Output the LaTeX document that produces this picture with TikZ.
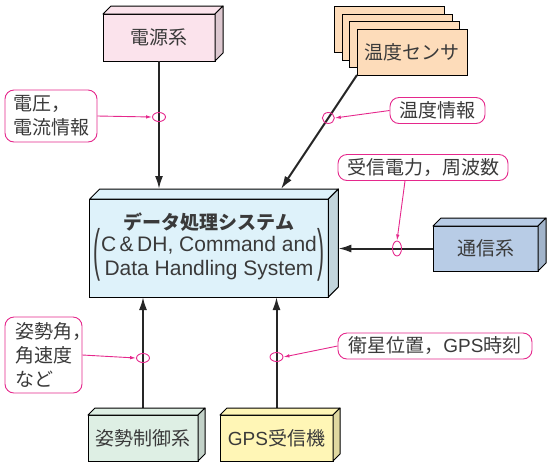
\documentclass[tikz,border=0pt]{standalone}
\usepackage{fontspec}
\setmainfont{Noto Sans CJK JP}
\newfontfamily\latinfont{Liberation Sans}
\usepackage{xcolor}
\usepackage{graphicx}
\usepackage{tikz}
\usetikzlibrary{shapes.geometric,arrows.meta,positioning,calc}

\definecolor{inkgray}{HTML}{3A3A3A}
\definecolor{tagpink}{HTML}{E5288C}
\definecolor{pinkbox}{HTML}{FBE3EC}
\definecolor{peachbox}{HTML}{FDDCBA}
\definecolor{cyanbox}{HTML}{DEF2FA}
\definecolor{bluebox}{HTML}{B8CCE6}
\definecolor{mintbox}{HTML}{DEEFE4}
\definecolor{yellowbox}{HTML}{FFF6B6}

% top and right faces of a box node
\newcommand\slabfaces[3]{%
  \filldraw[fill=#3, draw=black, line width=1pt, line join=round]
    (#1.north west) -- ++(#2pt,#2pt) -- ([shift={(#2pt,#2pt)}]#1.north east) -- (#1.north east) -- cycle;
  \filldraw[fill=#3!88!black, draw=black, line width=1pt, line join=round]
    (#1.north east) -- ++(#2pt,#2pt) -- ([shift={(#2pt,#2pt)}]#1.south east) -- (#1.south east) -- cycle;
}
% tall bracket over two lines
\newcommand\tallparen[1]{\smash{\raisebox{-18pt}{\scalebox{1}[2.7]{#1}}}}

\begin{document}
\begin{tikzpicture}[
    x=1pt, y=-1pt,
    font=\fontsize{19}{24}\selectfont,
    slab/.style={rectangle, draw=black, line width=1pt, outer sep=0pt, text=inkgray, align=center},
    tag/.style={rectangle, draw=tagpink, line width=0.9pt, fill=white, rounded corners=9pt, text=inkgray, inner sep=3pt},
    flow/.style={-{Latex[length=13pt,width=8pt]}, line width=2pt, draw=black!85},
    lead/.style={-{Latex[length=6pt,width=3.5pt]}, line width=0.9pt, draw=tagpink},
    loopmark/.style={ellipse, draw=tagpink, line width=0.9pt, inner sep=0pt, minimum width=13pt, minimum height=9pt}
]
    \useasboundingbox (0,0) rectangle (548,467);

    % subsystems
    \node [slab, fill=pinkbox, minimum width=112pt, minimum height=47pt] (pwr) at (159,37.5) {電源系};
    \foreach \i in {3,2,1}
        \node [slab, fill=peachbox, minimum width=110pt, minimum height=46pt] (temp\i) at ($(412,52)-(7.5*\i,7.5*\i)$) {};
    \node [slab, fill=peachbox, minimum width=110pt, minimum height=46pt] (temp) at (412,52) {温度センサ};
    \node [slab, fill=cyanbox, minimum width=238pt, minimum height=98pt] (cdh) at (209,248)
        {\textbf{データ処理システム}\\[2pt]{\latinfont\fontsize{21}{24}\selectfont
         \begin{tabular}{@{}l@{\hspace{1pt}}c@{\hspace{1pt}}r@{}}
         \tallparen{(} & C\,\&\,DH, Command and & \tallparen{)}\\
                       & Data Handling System  &
         \end{tabular}}};
    \node [slab, fill=bluebox, minimum width=105pt, minimum height=45pt] (com) at (485.5,248.5) {通信系};
    \node [slab, fill=mintbox, minimum width=110pt, minimum height=46pt] (att) at (143,438) {姿勢制御系};
    \node [slab, fill=yellowbox, minimum width=113pt, minimum height=46pt] (gps) at (276.5,438) {{\latinfont GPS}受信機};

    % data flow
    \coordinate (tempin) at ($(cdh.north)+(72,-10)$);
    \draw [flow] (pwr.south) -- ($(pwr.south |- cdh.north)+(0,-10)$);
    \draw [flow] (temp.south west) -- (tempin);
    \draw [flow] (com.west) -- ($(com.west -| cdh.east)+(10,0)$);
    \draw [flow] (att.north) -- (att.north |- cdh.south);
    \draw [flow] (gps.north) -- (gps.north |- cdh.south);

    \foreach \n/\dep/\col in {pwr/8/pinkbox, cdh/10/cyanbox, com/8/bluebox, att/7/mintbox, gps/7/yellowbox}
        {\slabfaces{\n}{\dep}{\col}}

    % marks on the lines
    \node [loopmark] (kv) at (159,117) {};
    \node [loopmark, minimum width=12pt, minimum height=11pt] (kt) at ($(temp.south west)!0.377!(tempin)$) {};
    \node [loopmark, minimum width=9pt, minimum height=15pt] (kc) at (397,248.5) {};
    \node [loopmark] (ka) at (143,358) {};
    \node [loopmark] (kg) at (276.5,357) {};

    % labels
    \node [tag, minimum width=92pt, minimum height=52pt, align=left] (lvolt) at (51,116) {電圧\rlap{，}\\電流情報};
    \node [tag, minimum width=95pt, minimum height=26pt] (ltemp) at (437.5,110.5) {温度情報};
    \node [tag, minimum width=170pt, minimum height=26pt] (lcom) at (423,167.5) {受信電力，周波数};
    \node [tag, minimum width=77pt, minimum height=76pt, align=left] (latt) at (43.5,355) {姿勢角\rlap{，}\\角速度\\など};
    \node [tag, minimum width=194pt, minimum height=26pt] (lgps) at (435,346) {衛星位置，{\latinfont GPS}時刻};

    \draw [lead] (lvolt.east) -- (kv.west);
    \draw [lead] (ltemp.west) -- (kt.east);
    \draw [lead] ([xshift=-18pt]lcom.south) -- (kc.north);
    \draw [lead] (latt.east) -- (ka.west);
    \draw [lead] (lgps.west) -- (kg.east);
\end{tikzpicture}
\end{document}
